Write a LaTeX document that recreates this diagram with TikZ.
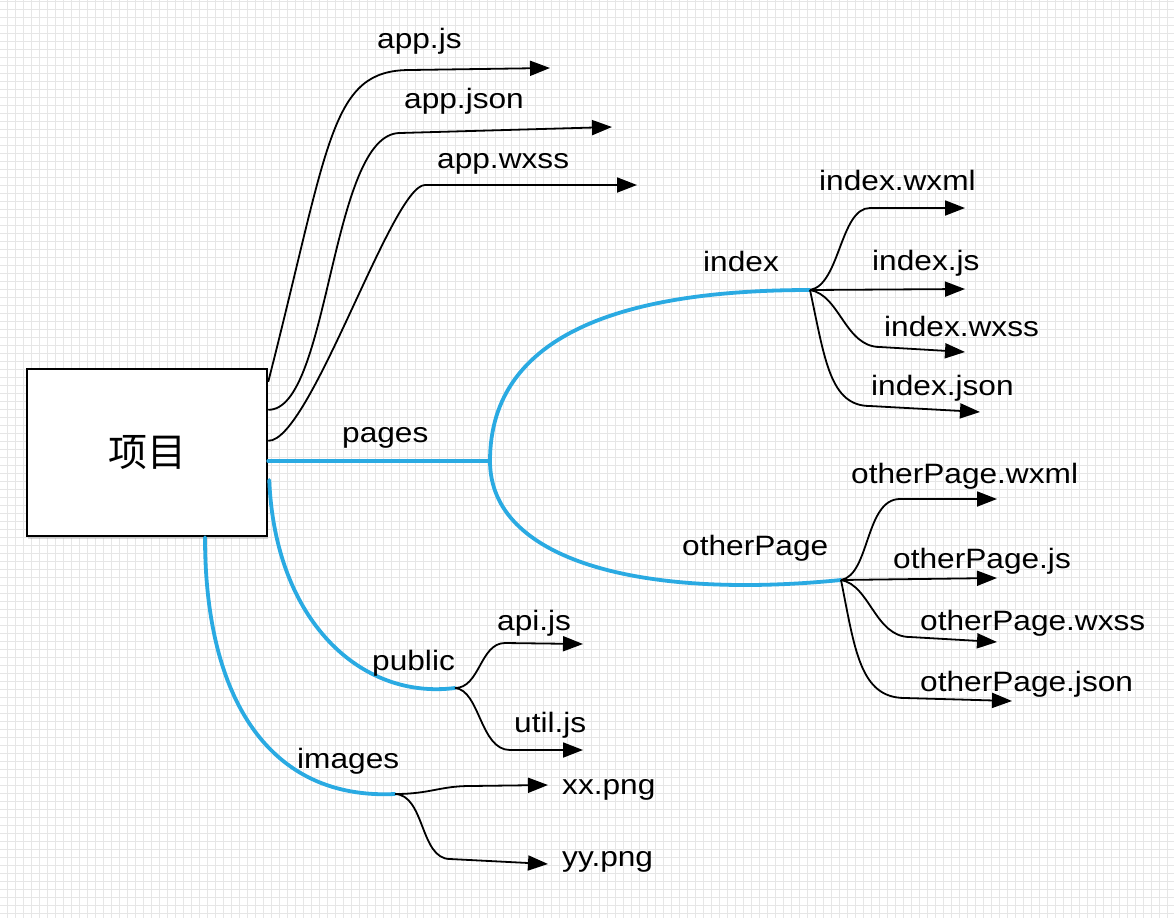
\documentclass[tikz,border=0pt]{standalone}
\usepackage{fontspec}
\setmainfont{Liberation Sans}[FakeStretch=1.13]
\newfontfamily\cjk{Noto Sans CJK SC}
\usetikzlibrary{shapes,positioning,calc,arrows.meta,shadows}
\definecolor{skyblue}{RGB}{42,170,226}
\definecolor{gridgray}{RGB}{230,230,230}

\begin{document}
\begin{tikzpicture}
  [x=1pt,y=-1pt,
   projN/.style={draw,line width=2.5pt,fill=white,minimum width=240pt,minimum height=167pt,
                 drop shadow={shadow xshift=1pt,shadow yshift=-3pt,opacity=0.3}},
   fileN/.style={anchor=base west,inner sep=0pt,font=\fontsize{28}{32}\selectfont},
   blueE/.style={draw=skyblue,line width=3.8pt,line cap=round},
   fileE/.style={draw,line width=1.8pt,-{Triangle[length=20pt,width=15pt]}},
   gridL/.style={draw=gridgray,line width=1pt}]

  \fill[white] (0,0) rectangle (1174,918);
  \useasboundingbox (0,0) rectangle (1174,918);

  % grid paper
  \foreach \k in {0,...,146} \draw[gridL] (7.3+8*\k,0) -- (7.3+8*\k,918);
  \foreach \k in {0,...,114} \draw[gridL] (0,1.3+8*\k) -- (1174,1.3+8*\k);

  \node[projN] (proj) at (147,452.5) {\cjk\fontsize{39}{44}\selectfont 项目};

  \coordinate (jsS)     at ($(proj.north east)+(0,14)$);
  \coordinate (jsonS)   at ($(proj.north east)+(0,42)$);
  \coordinate (wxssS)   at ($(proj.north east)+(0,73)$);
  \coordinate (pagesS)  at ($(proj.east)+(0,8.5)$);
  \coordinate (publicS) at ($(proj.east)+(1,27.5)$);
  \coordinate (imagesS) at ($(proj.south)+(58,0)$);

  \coordinate (pagesF)  at (490,461);
  \coordinate (indexF)  at (810,290);
  \coordinate (otherF)  at (841,580);
  \coordinate (publicF) at (455,688);
  \coordinate (imagesF) at (395,794);

  \coordinate (appjsE)   at (550,68);
  \coordinate (appjsonE) at (612,127);
  \coordinate (appwxssE) at (637,185);
  
  \coordinate (iwxmlE) at (965,208);
  \coordinate (ijsE)   at (965,289);
  \coordinate (iwxssE) at (965,352);
  \coordinate (ijsonE) at (980,412);

  \coordinate (owxmlE) at (997,499);
  \coordinate (ojsE)   at (997,578);
  \coordinate (owxssE) at (997,642);
  \coordinate (ojsonE) at (1012,701);

  \coordinate (apiE)  at (583,644);
  \coordinate (utilE) at (583,750);
  \coordinate (xxE)   at (548,785);
  \coordinate (yyE)   at (548,864);

  % blue folders
  \draw [blueE] (pagesS) -- (pagesF);
  \draw [blueE] (pagesF) .. controls (490,331) and (630,290) .. (indexF);
  \draw [blueE] (pagesF) .. controls (490,560) and (640,600) .. (otherF);
  \draw [blueE] (publicS) .. controls (275,620) and (360,700) .. (publicF);
  \draw [blueE] (imagesS) .. controls (205,700) and (270,800) .. (imagesF);

  % app files
  \draw [fileE] (jsS) .. controls (330,140) and (330,70) .. (410,70) -- (appjsE);
  \draw [fileE] (jsonS) .. controls (330,411) and (330,133) .. (400,133) -- (appjsonE);
  \draw [fileE] (wxssS) .. controls (310,442) and (392,185) .. (425,185) -- (appwxssE);

  % index files
  \draw [fileE] (indexF) .. controls (840,285) and (840,208) .. (870,208) -- (iwxmlE);
  \draw [fileE] (indexF) -- (ijsE);
  \draw [fileE] (indexF) .. controls (840,295) and (845,347) .. (880,347) -- (iwxssE);
  \draw [fileE] (indexF) .. controls (825,360) and (830,406) .. (870,406) -- (ijsonE);

  % otherPage files
  \draw [fileE] (otherF) .. controls (870,575) and (865,499) .. (900,499) -- (owxmlE);
  \draw [fileE] (otherF) -- (ojsE);
  \draw [fileE] (otherF) .. controls (870,585) and (875,637) .. (910,637) -- (owxssE);
  \draw [fileE] (otherF) .. controls (855,650) and (860,698) .. (905,698) -- (ojsonE);

  % public / images files
  \draw [fileE] (publicF) .. controls (480,688) and (480,643) .. (505,643) -- (apiE);
  \draw [fileE] (publicF) .. controls (480,690) and (480,750) .. (510,750) -- (utilE);
  \draw [fileE] (imagesF) .. controls (430,794) and (440,786) .. (470,786) -- (xxE);
  \draw [fileE] (imagesF) .. controls (425,795) and (420,859) .. (450,859) -- (yyE);

  \node[fileN] (appjs)   at (377,48)  {app.js};
  \node[fileN] (appjson) at (404,108) {app.json};
  \node[fileN] (appwxss) at (437,168) {app.wxss};

  \node[fileN] (pages)  at (342,442) {pages};
  \node[fileN] (index)  at (703,271) {index};
  \node[fileN] (other)  at (682,555) {otherPage};
  \node[fileN] (public) at (372,670) {public};
  \node[fileN] (images) at (297,768) {images};

  \node[fileN] (iwxml) at (819,190) {index.wxml};
  \node[fileN] (ijs)   at (872,270) {index.js};
  \node[fileN] (iwxss) at (884,336) {index.wxss};
  \node[fileN] (ijson) at (871,395) {index.json};

  \node[fileN] (owxml) at (851,483) {otherPage.wxml};
  \node[fileN] (ojs)   at (893,568) {otherPage.js};
  \node[fileN] (owxss) at (920,630) {otherPage.wxss};
  \node[fileN] (ojson) at (920,691) {otherPage.json};

  \node[fileN] (api)  at (497,630) {api.js};
  \node[fileN] (util) at (514,732) {util.js};
  \node[fileN] (xx)   at (562,794) {xx.png};
  \node[fileN] (yy)   at (562,866) {yy.png};
\end{tikzpicture}
\end{document}
